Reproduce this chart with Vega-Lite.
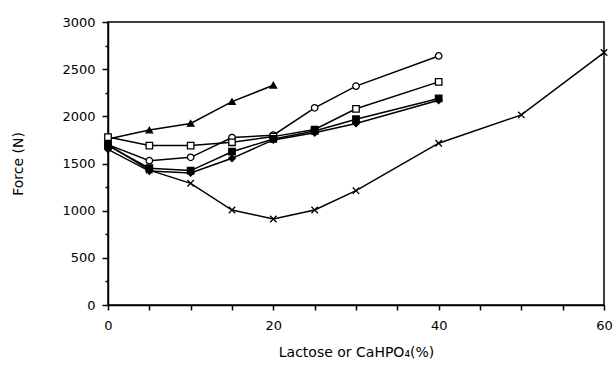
{
  "$schema": "https://vega.github.io/schema/vega-lite/v6.json",
  "autosize": "none",
  "width": 496,
  "height": 283,
  "padding": {"left": 108, "top": 22, "right": 10, "bottom": 65},
  "background": "white",
  "config": {
    "view": {"stroke": "black", "strokeWidth": 1.5},
    "axis": {"labelFont": "DejaVu Sans", "titleFont": "DejaVu Sans", "labelColor": "black", "titleColor": "black", "domainColor": "black", "tickColor": "black", "domainWidth": 1.5, "tickWidth": 1.5, "grid": false, "titleFontWeight": "normal", "labelFontSize": 13, "titleFontSize": 14}
  },
  "data": {"values": [
    {"s": "A", "x": 0, "y": 1760}, {"s": "A", "x": 5, "y": 1855}, {"s": "A", "x": 10, "y": 1925}, {"s": "A", "x": 15, "y": 2156}, {"s": "A", "x": 20, "y": 2330},
    {"s": "B", "x": 0, "y": 1700}, {"s": "B", "x": 5, "y": 1530}, {"s": "B", "x": 10, "y": 1565}, {"s": "B", "x": 15, "y": 1775}, {"s": "B", "x": 20, "y": 1800}, {"s": "B", "x": 25, "y": 2090}, {"s": "B", "x": 30, "y": 2320}, {"s": "B", "x": 40, "y": 2640},
    {"s": "C", "x": 0, "y": 1780}, {"s": "C", "x": 5, "y": 1690}, {"s": "C", "x": 10, "y": 1690}, {"s": "C", "x": 15, "y": 1725}, {"s": "C", "x": 20, "y": 1785}, {"s": "C", "x": 25, "y": 1860}, {"s": "C", "x": 30, "y": 2080}, {"s": "C", "x": 40, "y": 2365},
    {"s": "D", "x": 0, "y": 1690}, {"s": "D", "x": 5, "y": 1450}, {"s": "D", "x": 10, "y": 1425}, {"s": "D", "x": 15, "y": 1625}, {"s": "D", "x": 20, "y": 1760}, {"s": "D", "x": 25, "y": 1845}, {"s": "D", "x": 30, "y": 1970}, {"s": "D", "x": 40, "y": 2190},
    {"s": "E", "x": 0, "y": 1650}, {"s": "E", "x": 5, "y": 1420}, {"s": "E", "x": 10, "y": 1400}, {"s": "E", "x": 15, "y": 1555}, {"s": "E", "x": 20, "y": 1750}, {"s": "E", "x": 25, "y": 1825}, {"s": "E", "x": 30, "y": 1925}, {"s": "E", "x": 40, "y": 2170},
    {"s": "F", "x": 0, "y": 1700}, {"s": "F", "x": 5, "y": 1430}, {"s": "F", "x": 10, "y": 1290}, {"s": "F", "x": 15, "y": 1007}, {"s": "F", "x": 20, "y": 912}, {"s": "F", "x": 25, "y": 1007}, {"s": "F", "x": 30, "y": 1212}, {"s": "F", "x": 40, "y": 1715}, {"s": "F", "x": 50, "y": 2015}, {"s": "F", "x": 60, "y": 2676}
  ]},
  "encoding": {
    "x": {"field": "x", "type": "quantitative", "scale": {"domain": [0, 60], "nice": false},
      "axis": {"title": "Lactose or CaHPO₄(%)", "values": [0,5,10,15,20,25,30,35,40,45,50,55,60], "labelExpr": "datum.value % 20 == 0 ? datum.label : ''", "tickSize": 5, "labelPadding": 9, "titlePadding": 13, "labelFlush": false}},
    "y": {"field": "y", "type": "quantitative", "scale": {"domain": [0, 3000], "nice": false},
      "axis": {"title": "Force (N)", "values": [0,250,500,750,1000,1250,1500,1750,2000,2250,2500,2750,3000], "labelExpr": "datum.value % 500 == 0 ? datum.label : ''", "format": "d", "tickSize": {"condition": {"test": "datum.value % 500 == 0", "value": 6}, "value": 3}, "labelPadding": 7, "titlePadding": 36}}
  },
  "layer": [
    {"mark": {"type": "line", "color": "black", "strokeWidth": 1.5}, "encoding": {"detail": {"field": "s"}}},
    {"mark": {"type": "point", "size": 42, "strokeWidth": 1.3, "opacity": 1, "stroke": "black"},
      "encoding": {
        "shape": {"field": "s", "type": "nominal", "legend": null, "scale": {"domain": ["A","B","C","D","E","F"], "range": ["triangle-up","circle","square","square","diamond","M-1,-1L1,1M-1,1L1,-1"]}},
        "fill": {"field": "s", "type": "nominal", "legend": null, "scale": {"domain": ["A","B","C","D","E","F"], "range": ["black","white","white","black","black","transparent"]}}
      }}
  ]
}
